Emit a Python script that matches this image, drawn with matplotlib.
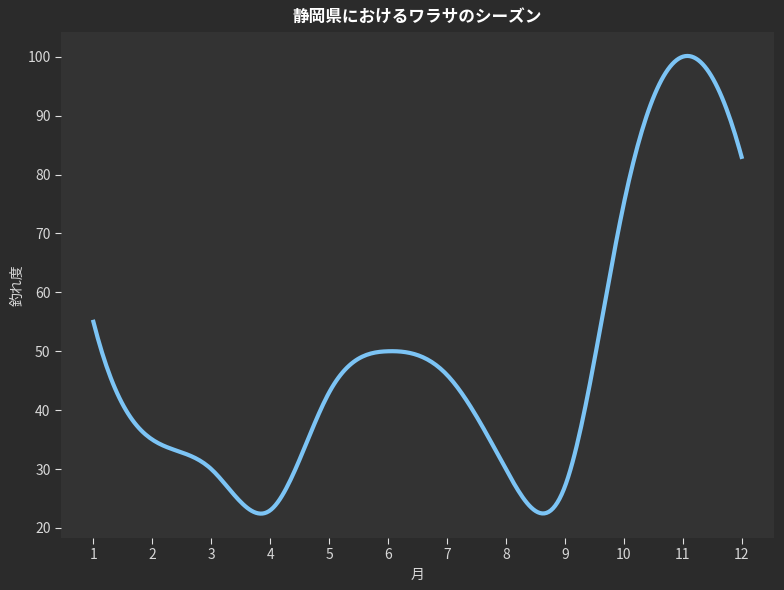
import numpy as np
import matplotlib
matplotlib.use("Agg")
import matplotlib.pyplot as plt

months = [1, 2, 3, 4, 5, 6, 7, 8, 9, 10, 11, 12]
catch_index = [55, 35, 30, 23, 43, 50, 46, 30, 27, 75, 100, 83]
title = "静岡県におけるワラサのシーズン"
xlabel = "月"
ylabel = "釣れ度"

plt.rcParams['font.family'] = ['Noto Sans CJK JP', 'DejaVu Sans']


def not_a_knot_spline(x, y, xs):
    x = np.asarray(x, float); y = np.asarray(y, float)
    n = len(x)
    h = np.diff(x)
    A = np.zeros((n, n)); b = np.zeros(n)
    A[0, 0] = h[1]; A[0, 1] = -(h[0] + h[1]); A[0, 2] = h[0]
    A[-1, -3] = h[-1]; A[-1, -2] = -(h[-2] + h[-1]); A[-1, -1] = h[-2]
    for i in range(1, n - 1):
        A[i, i - 1] = h[i - 1]
        A[i, i] = 2 * (h[i - 1] + h[i])
        A[i, i + 1] = h[i]
        b[i] = 6 * ((y[i + 1] - y[i]) / h[i] - (y[i] - y[i - 1]) / h[i - 1])
    M = np.linalg.solve(A, b)
    idx = np.clip(np.searchsorted(x, xs) - 1, 0, n - 2)
    x0 = x[idx]; x1 = x[idx + 1]; hh = x1 - x0
    t0 = x1 - xs; t1 = xs - x0
    return (M[idx] * t0**3 / (6 * hh) + M[idx + 1] * t1**3 / (6 * hh)
            + (y[idx] / hh - M[idx] * hh / 6) * t0
            + (y[idx + 1] / hh - M[idx + 1] * hh / 6) * t1)


xs = np.linspace(min(months), max(months), 300)
ys = not_a_knot_spline(months, catch_index, xs)

fig = plt.figure(figsize=(7.84, 5.9), dpi=100, facecolor='#2b2b2b')
ax = fig.add_axes([61 / 784, 52 / 590, 713 / 784, 506 / 590])
ax.set_facecolor('#333333')
ax.plot(xs, ys, color='#7cc4f5', linewidth=3)
for s in ax.spines.values():
    s.set_visible(False)
ax.set_xticks(months)
ax.set_xlim(0.45, 12.55)
ax.set_ylim(18.3, 104.2)
ax.set_yticks([20, 30, 40, 50, 60, 70, 80, 90, 100])
ax.tick_params(colors='#e0e0e0', labelcolor='#d8d8d8', labelsize=10, length=4)
ax.set_xlabel(xlabel, color='#d8d8d8', fontsize=10)
ax.set_ylabel(ylabel, color='#d8d8d8', fontsize=10, labelpad=2)
ax.set_title(title, color='white', fontsize=12, fontweight='bold', pad=7)
fig.savefig('out.png', dpi=100, facecolor='#2b2b2b')
